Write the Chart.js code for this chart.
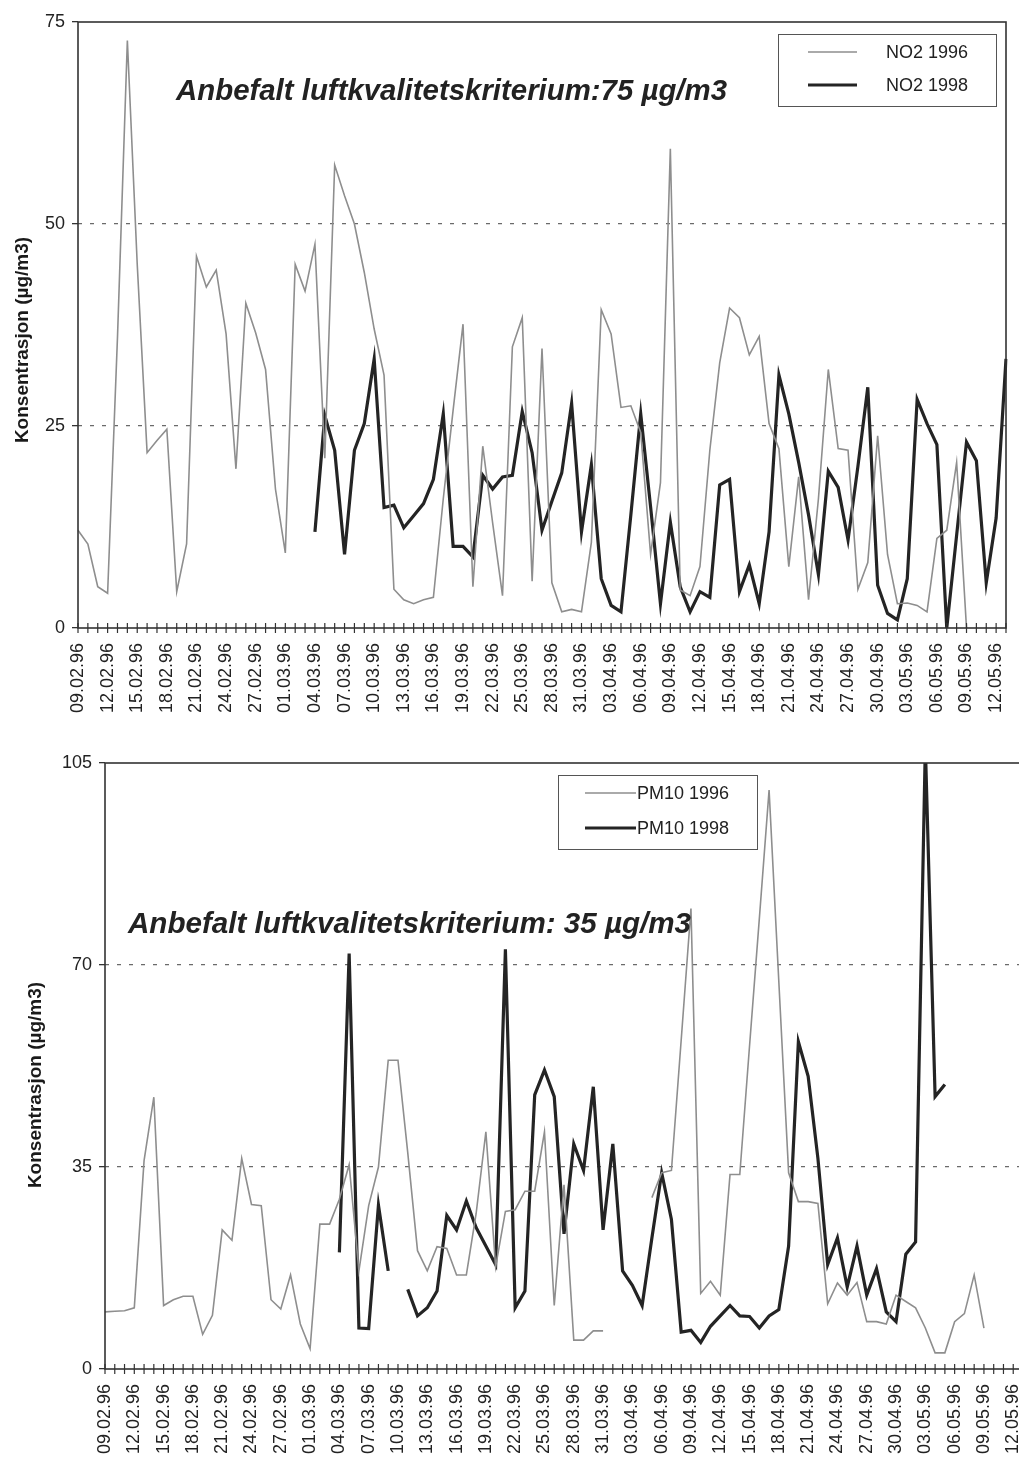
<!DOCTYPE html>
<html>
<head>
<meta charset="utf-8">
<script src="https://cdn.jsdelivr.net/npm/chart.js@4.4.1/dist/chart.umd.min.js"></script>
<style>
  html, body { margin: 0; padding: 0; background: #fff; overflow: hidden; width: 1019px; height: 1461px; }
  #no2 { position: absolute; left: 0; top: 0; }
  #pm10 { position: absolute; left: 0; top: 740px; }
</style>
</head>
<body>
<canvas id="no2" width="1019" height="740"></canvas>
<canvas id="pm10" width="1040" height="721"></canvas>
<script>
// daily categories, 09.02.96 - 13.05.96
const days = [
  '09.02.96','10.02.96','11.02.96','12.02.96','13.02.96','14.02.96','15.02.96','16.02.96','17.02.96','18.02.96',
  '19.02.96','20.02.96','21.02.96','22.02.96','23.02.96','24.02.96','25.02.96','26.02.96','27.02.96','28.02.96',
  '29.02.96','01.03.96','02.03.96','03.03.96','04.03.96','05.03.96','06.03.96','07.03.96','08.03.96','09.03.96',
  '10.03.96','11.03.96','12.03.96','13.03.96','14.03.96','15.03.96','16.03.96','17.03.96','18.03.96','19.03.96',
  '20.03.96','21.03.96','22.03.96','23.03.96','24.03.96','25.03.96','26.03.96','27.03.96','28.03.96','29.03.96',
  '30.03.96','31.03.96','01.04.96','02.04.96','03.04.96','04.04.96','05.04.96','06.04.96','07.04.96','08.04.96',
  '09.04.96','10.04.96','11.04.96','12.04.96','13.04.96','14.04.96','15.04.96','16.04.96','17.04.96','18.04.96',
  '19.04.96','20.04.96','21.04.96','22.04.96','23.04.96','24.04.96','25.04.96','26.04.96','27.04.96','28.04.96',
  '29.04.96','30.04.96','01.05.96','02.05.96','03.05.96','04.05.96','05.05.96','06.05.96','07.05.96','08.05.96',
  '09.05.96','10.05.96','11.05.96','12.05.96','13.05.96'
];

const no2_1996 = [
  12.1, 10.4, 5.1, 4.3, 36, 72.7, 45, 21.7, 23.2, 24.6,
  4.5, 10.4, 46, 42.2, 44.3, 36.4, 19.7, 40.2, 36.5, 32,
  17.2, 9.3, 45, 41.7, 47.5, 21, 57.3, 53.5, 50, 44,
  37, 31.3, 4.8, 3.5, 3.0, 3.5, 3.8, 16, 27, 37.6,
  5.1, 22.5, 13, 4, 34.8, 38.4, 5.8, 34.6, 5.6, 2.0,
  2.3, 2.0, 10.6, 39.4, 36.4, 27.3, 27.5, 24.2, 9.1, 18,
  59.3, 4.7, 4.0, 7.6, 22, 32.8, 39.6, 38.4, 33.8, 36.1,
  25.3, 22.2, 7.6, 18.7, 3.5, 16, 32, 22.2, 22, 4.8,
  8.1, 23.8, 9.1, 3.0, 3.1, 2.8, 2.0, 11.1, 12.1, 20.5,
  0, null, null, null, null
];
const no2_1998 = [
  null, null, null, null, null, null, null, null, null, null,
  null, null, null, null, null, null, null, null, null, null,
  null, null, null, null, 11.9, 26.3, 22, 9.1, 22, 25.3,
  33.3, 14.9, 15.2, 12.4, 13.9, 15.4, 18.4, 26.5, 10.1, 10.1,
  8.8, 18.9, 17.2, 18.7, 18.9, 26.8, 21.7, 12.1, 15.7, 19.2,
  27.8, 11.9, 20.2, 6.1, 2.8, 2.0, 14, 26.5, 15, 3.0,
  13.1, 5.1, 2.0, 4.5, 3.8, 17.7, 18.4, 4.5, 7.8, 3.0,
  11.9, 31.3, 26.5, 20.5, 14, 6.6, 19.4, 17.4, 10.9, 20,
  29.8, 5.3, 1.8, 1.0, 6.1, 28.3, 25.3, 22.7, 0, 11.5,
  23.0, 20.7, 5.6, 13.6, 33.3
];
const pm10_1996 = [
  9.9, 10, 10.1, 10.6, 36.1, 47.1, 11, 12, 12.6, 12.6,
  6.0, 9.3, 24.1, 22.3, 36.5, 28.5, 28.3, 12, 10.4, 16.3,
  7.8, 3.5, 25.1, 25.1, 29.4, 35.4, 17, 28.3, 35, 53.5,
  53.5, 37.5, 20.5, 17, 21.2, 20.9, 16.3, 16.3, 26.9, 41.1,
  17.7, 27.3, 27.6, 30.8, 30.8, 41.1, 11.0, 31.9, 5.0, 5.0,
  6.6, 6.6, null, null, null, null, 29.7, 34, 34.4, 57,
  79.8, 13.1, 15.2, 12.8, 33.7, 33.7, 56, 78, 100.3, 67,
  34, 29, 29, 28.7, 11.3, 14.9, 12.8, 15, 8.2, 8.2,
  7.8, 12.8, 11.7, 10.6, 7.1, 2.8, 2.8, 8.2, 9.6, 16.3,
  7.1, null, null, null, null
];
const pm10_1998 = [
  null, null, null, null, null, null, null, null, null, null,
  null, null, null, null, null, null, null, null, null, null,
  null, null, null, null, 20.2, 72, 7.1, 7.0, 28.4, 17,
  null, 13.8, 9.2, 10.6, 13.5, 26.6, 24.1, 29.1, 24.5, 21.3,
  18.1, 72.7, 10.6, 13.5, 47.5, 51.8, 47.2, 23.4, 39, 34.4,
  48.9, 24.1, 39, 17, 14.5, 11, 22.7, 34, 25.9, 6.4,
  6.7, 4.6, 7.4, 9.2, 11, 9.2, 9.1, 7.1, 9.2, 10.3,
  21.3, 56.7, 50.7, 36.5, 18.1, 22.7, 14.2, 21.3, 12.8, 17.4,
  9.9, 8.2, 19.9, 22, 108, 47.2, 49.3, null, null, null,
  null, null, null, null, null
];

const no2Ticks = [0, 25, 50, 75];
const pm10Ticks = [0, 35, 70, 105];

const GRAY = '#8e8e8e';
const DARK = '#242424';
const FONT = '"Liberation Sans", Arial, sans-serif';

// frame, cross ticks, axis title, note and legend box
const deco = {
  id: 'deco',
  afterDraw(chart, args, o) {
    const { ctx, chartArea: a } = chart;
    const xs = chart.scales.x;
    ctx.save();
    ctx.strokeStyle = '#333';
    ctx.lineWidth = 1.6;
    ctx.strokeRect(a.left, a.top, a.right - a.left, a.bottom - a.top);

    ctx.lineWidth = 1.2;
    ctx.beginPath();
    for (let i = 0; i < days.length; i++) {
      const px = xs.getPixelForValue(i);
      ctx.moveTo(px, a.bottom - 5);
      ctx.lineTo(px, a.bottom + 5);
    }
    ctx.stroke();

    ctx.fillStyle = '#1a1a1a';
    ctx.save();
    ctx.translate(o.yTitle[0], o.yTitle[1]);
    ctx.rotate(-Math.PI / 2);
    ctx.font = 'bold 19px ' + FONT;
    ctx.textAlign = 'center';
    ctx.textBaseline = 'middle';
    ctx.fillText('Konsentrasjon (µg/m3)', 0, 0);
    ctx.restore();

    // note, sized to the width it has in the picture
    let fs = 28;
    ctx.font = 'italic bold ' + fs + 'px ' + FONT;
    fs = fs * o.note.w / ctx.measureText(o.note.text).width;
    ctx.font = 'italic bold ' + fs.toFixed(1) + 'px ' + FONT;
    ctx.textAlign = 'left';
    ctx.textBaseline = 'middle';
    ctx.fillStyle = '#222';
    ctx.fillText(o.note.text, o.note.x, o.note.y);

    const L = o.legend;
    ctx.lineWidth = 1;
    ctx.strokeStyle = '#555';
    ctx.strokeRect(L.x + 0.5, L.y + 0.5, L.w, L.h);
    ctx.font = '18px ' + FONT;
    chart.data.datasets.forEach((ds, k) => {
      ctx.strokeStyle = ds.borderColor;
      ctx.lineWidth = ds.borderWidth;
      ctx.beginPath();
      ctx.moveTo(L.lx[0], L.ys[k]);
      ctx.lineTo(L.lx[1], L.ys[k]);
      ctx.stroke();
      ctx.fillStyle = '#222';
      ctx.fillText(ds.label, L.tx, L.ys[k] + 1);
    });
    ctx.restore();
  }
};

function makeChart(id, o) {
  const top = o.ticks[o.ticks.length - 1];
  return new Chart(document.getElementById(id), {
    type: 'line',
    data: {
      labels: days,
      datasets: [
        { label: o.names[0], data: o.series[0], borderColor: GRAY, borderWidth: 1.6,
          pointRadius: 0, tension: 0, spanGaps: false },
        { label: o.names[1], data: o.series[1], borderColor: DARK, borderWidth: 3.2,
          pointRadius: 0, tension: 0, spanGaps: false }
      ]
    },
    options: {
      responsive: false,
      animation: false,
      layout: { padding: { top: o.pad[0], right: o.pad[1], bottom: 0, left: 0 } },
      plugins: { legend: { display: false }, tooltip: { enabled: false }, deco: o },
      scales: {
        x: {
          type: 'category',
          grid: { display: false },
          border: { display: false },
          ticks: {
            autoSkip: false, minRotation: 90, maxRotation: 90, padding: 7,
            color: '#222', font: { family: FONT, size: 18 },
            callback: (v, i) => (i % 3 === 0 ? days[i] : '')
          },
          afterFit: s => { s.height = o.xh; s.paddingLeft = 0; s.paddingRight = 0; }
        },
        y: {
          min: 0,
          max: top,
          afterBuildTicks: s => { s.ticks = o.ticks.map(v => ({ value: v })); },
          grid: {
            color: c => (c.tick && c.tick.value > 0 && c.tick.value < top ? '#6a6a6a' : 'rgba(0,0,0,0)'),
            lineWidth: 1.3,
            tickColor: '#333',
            tickLength: 6
          },
          border: { display: false, dash: [4, 8] },
          ticks: { padding: 7, color: '#222', font: { family: FONT, size: 18 } },
          afterFit: s => { s.width = o.left; s.paddingTop = 0; s.paddingBottom = 0; }
        }
      }
    },
    plugins: [deco]
  });
}

makeChart('no2', {
  names: ['NO2 1996', 'NO2 1998'],
  series: [no2_1996, no2_1998],
  ticks: no2Ticks,
  pad: [22, 13],
  left: 78,
  xh: 112,
  yTitle: [23, 340],
  note: { text: 'Anbefalt luftkvalitetskriterium:75 µg/m3', x: 176, y: 92, w: 551 },
  legend: { x: 778, y: 34, w: 218, h: 72, lx: [808, 857], tx: 886, ys: [52, 85] }
});

makeChart('pm10', {
  names: ['PM10 1996', 'PM10 1998'],
  series: [pm10_1996, pm10_1998],
  ticks: pm10Ticks,
  pad: [23, 17],
  left: 105,
  xh: 92,
  yTitle: [36, 345],
  note: { text: 'Anbefalt luftkvalitetskriterium: 35 µg/m3', x: 128, y: 185, w: 564 },
  legend: { x: 558, y: 35, w: 199, h: 74, lx: [585, 636], tx: 637, ys: [53, 88] }
});
</script>
</body>
</html>
